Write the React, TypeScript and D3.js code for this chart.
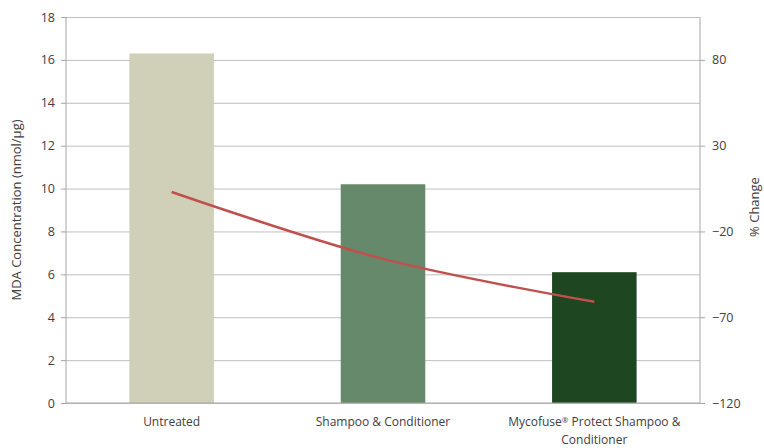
import React, { useEffect, useRef } from 'react';
import * as d3 from 'd3';

const categories = ['Untreated', 'Shampoo & Conditioner', 'Mycofuse® Protect Shampoo &\nConditioner'];
const mdaValues = [16.3, 10.2, 6.1];
const pctChange = [3, -36, -61];
const barColors = ['#d0d0b9', '#66896b', '#1e4620'];
const leftTicks = [0, 2, 4, 6, 8, 10, 12, 14, 16, 18];
const rightTicks = [-120, -70, -20, 30, 80];

const FONT = '"Open Sans", Arial, sans-serif';
const TEXT = '#404040';

export default function App() {
  const ref = useRef<SVGSVGElement>(null);

  useEffect(() => {
    const svg = d3.select(ref.current);
    svg.selectAll('*').remove();
    const width = 764, height = 448;
    const margin = { top: 17, right: 64, bottom: 45, left: 66 };
    const w = width - margin.left - margin.right;
    const h = height - margin.top - margin.bottom;

    const x = d3.scaleBand().domain(categories).range([0, w]).paddingInner(0.6).paddingOuter(0.3);
    const yL = d3.scaleLinear().domain([0, 18]).range([h, 0]);
    const yR = d3.scaleLinear().domain([-120, 105]).range([h, 0]);

    const g = svg.append('g').attr('transform', `translate(${margin.left},${margin.top})`);

    // gridlines
    g.append('g')
      .call(d3.axisLeft(yL).tickValues(leftTicks).tickSize(-w).tickFormat(() => ''))
      .call(s => s.select('.domain').remove())
      .call(s => s.selectAll('line').attr('stroke', '#bfbfbf').attr('stroke-width', 1));

    // bars
    g.selectAll('rect.bar').data(categories).enter().append('rect')
      .attr('x', d => x(d)!)
      .attr('width', x.bandwidth())
      .attr('y', (_, i) => yL(mdaValues[i]))
      .attr('height', (_, i) => h - yL(mdaValues[i]))
      .attr('fill', (_, i) => barColors[i]);

    // % change line
    const line = d3.line<number>()
      .x((_, i) => x(categories[i])! + x.bandwidth() / 2)
      .y(d => yR(d))
      .curve(d3.curveCatmullRom.alpha(0.5));
    g.append('path').datum(pctChange)
      .attr('fill', 'none').attr('stroke', '#c0504d').attr('stroke-width', 2.5)
      .attr('d', line);

    // left axis
    g.append('g')
      .call(d3.axisLeft(yL).tickValues(leftTicks).tickSize(5).tickPadding(6))
      .call(s => s.select('.domain').attr('stroke', '#a6a6a6').attr('d', `M0,0V${h}`))
      .call(s => s.selectAll('line').attr('stroke', '#a6a6a6'))
      .call(s => s.selectAll('text').attr('fill', TEXT).attr('font-size', '12.5px').attr('font-family', FONT));

    // right axis
    g.append('g').attr('transform', `translate(${w},0)`)
      .call(d3.axisRight(yR).tickValues(rightTicks).tickSize(5).tickPadding(7))
      .call(s => s.select('.domain').attr('stroke', '#a6a6a6').attr('d', `M0,0V${h}`))
      .call(s => s.selectAll('line').attr('stroke', '#a6a6a6'))
      .call(s => s.selectAll('text').attr('fill', TEXT).attr('font-size', '12.5px').attr('font-family', FONT));

    // bottom axis
    g.append('line').attr('x1', 0).attr('x2', w).attr('y1', h).attr('y2', h).attr('stroke', '#a6a6a6');

    // category labels
    categories.forEach(c => {
      const cx = x(c)! + x.bandwidth() / 2;
      const t = g.append('text')
        .attr('x', cx).attr('y', h + 23)
        .attr('text-anchor', 'middle').attr('fill', TEXT)
        .attr('font-size', '12px').attr('font-family', FONT);
      c.split('\n').forEach((ln, i) => {
        const span = t.append('tspan').attr('x', cx).attr('dy', i === 0 ? 0 : 18);
        const parts = ln.split('®');
        parts.forEach((p, j) => {
          span.append('tspan').text(p);
          if (j < parts.length - 1) {
            span.append('tspan').attr('font-size', '8px').attr('baseline-shift', '35%').text('®');
          }
        });
      });
    });

    // axis titles
    svg.append('text')
      .attr('transform', `translate(21,${margin.top + h / 2}) rotate(-90)`)
      .attr('text-anchor', 'middle').attr('fill', TEXT)
      .attr('font-size', '13px').attr('font-family', FONT)
      .text('MDA Concentration (nmol/µg)');
    svg.append('text')
      .attr('transform', `translate(759,${margin.top + 190}) rotate(-90)`)
      .attr('text-anchor', 'middle').attr('fill', TEXT)
      .attr('font-size', '13px').attr('font-family', FONT)
      .text('% Change');
  }, []);

  return (
    <div style={{ position: 'absolute', left: 0, top: 0, width: 764, height: 448, background: '#fff' }}>
      <svg ref={ref} width={764} height={448} style={{ display: 'block' }} />
    </div>
  );
}
